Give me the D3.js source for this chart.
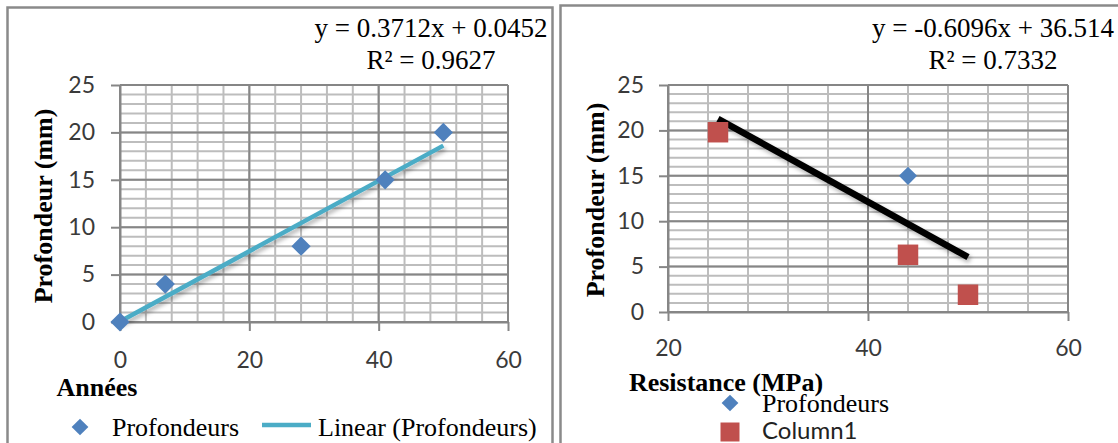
<!DOCTYPE html>
<html>
<head>
<meta charset="utf-8">
<script src="https://cdn.jsdelivr.net/npm/d3@7"></script>
<style>
  html, body { margin: 0; padding: 0; background: #fff; }
  svg { display: block; }
</style>
</head>
<body>
<svg id="chart" width="1118" height="443"></svg>
<script>
// ---------- Data ----------
// Left chart: Profondeur vs Années
const leftYears = [0, 7, 28, 41, 50];
const leftDepth = [0, 4, 8, 15, 20];
const leftTrend = [0.3712, 0.0452];            // slope, intercept
const leftEquation = ["y = 0.3712x + 0.0452", "R² = 0.9627"];
const leftXTicks = [0, 20, 40, 60];
const leftYTicks = [0, 5, 10, 15, 20, 25];

// Right chart: Profondeur vs Resistance
const rightProfX = [44];
const rightProfY = [15];
const rightColX = [25, 44, 50];
const rightColY = [19.8, 6.3, 1.9];
const rightTrend = [-0.6096, 36.514];
const rightEquation = ["y = -0.6096x + 36.514", "R² = 0.7332"];
const rightXTicks = [20, 40, 60];
const rightYTicks = [0, 5, 10, 15, 20, 25];

// ---------- Styles ----------
const SERIF = "'Liberation Serif', 'Times New Roman', serif";
const SANS = "Lato, 'Liberation Sans', sans-serif";
const BLUE = "#4f81bd", RED = "#c0504d", TEAL = "#4bacc6";
const MAJOR = "#868686", MINOR = "#bdbdbd";

const svg = d3.select("#chart");
const defs = svg.append("defs");
const f = defs.append("filter").attr("id", "shadow")
  .attr("x", "-20%").attr("y", "-20%").attr("width", "140%").attr("height", "160%");
f.append("feDropShadow").attr("dx", 2).attr("dy", 3).attr("stdDeviation", 2)
  .attr("flood-color", "#000").attr("flood-opacity", 0.3);

// Frames
svg.append("rect").attr("x", 7.5).attr("y", 7.5).attr("width", 545).attr("height", 450)
  .attr("fill", "#fff").attr("stroke", "#8a8a8a").attr("stroke-width", 2.5);
svg.append("rect").attr("x", 560.5).attr("y", 5.5).attr("width", 570).attr("height", 450)
  .attr("fill", "#fff").attr("stroke", "#8a8a8a").attr("stroke-width", 2.5);

function drawPanel(cfg) {
  const g = svg.append("g");
  const x = d3.scaleLinear().domain(cfg.xDomain).range(cfg.xRange);
  const y = d3.scaleLinear().domain([0, 25]).range(cfg.yRange);

  // minor grid
  const minorX = d3.range(cfg.xDomain[0], cfg.xDomain[1] + 0.001, 4);
  const minorY = d3.range(0, 25.001, 1);
  g.selectAll(".mx").data(minorX).join("line")
    .attr("x1", d => x(d)).attr("x2", d => x(d))
    .attr("y1", y(0)).attr("y2", y(25))
    .attr("stroke", MINOR).attr("stroke-width", 2);
  g.selectAll(".my").data(minorY).join("line")
    .attr("x1", x(cfg.xDomain[0])).attr("x2", x(cfg.xDomain[1]))
    .attr("y1", d => y(d)).attr("y2", d => y(d))
    .attr("stroke", MINOR).attr("stroke-width", 2);
  // major grid
  g.selectAll(".Mx").data(cfg.xTicks).join("line")
    .attr("x1", d => x(d)).attr("x2", d => x(d))
    .attr("y1", y(0)).attr("y2", y(25))
    .attr("stroke", MAJOR).attr("stroke-width", 2);
  g.selectAll(".My").data(cfg.yTicks).join("line")
    .attr("x1", x(cfg.xDomain[0])).attr("x2", x(cfg.xDomain[1]))
    .attr("y1", d => y(d)).attr("y2", d => y(d))
    .attr("stroke", MAJOR).attr("stroke-width", 2);

  // axes
  const ax = g.append("g").attr("transform", `translate(0,${y(0)})`)
    .call(d3.axisBottom(x).tickValues(cfg.xTicks).tickSize(9).tickSizeOuter(0).tickFormat(d3.format("d")));
  ax.select(".domain").attr("stroke", MAJOR).attr("stroke-width", 2);
  ax.selectAll(".tick line").attr("stroke", MAJOR).attr("stroke-width", 2);
  ax.selectAll("text").attr("y", cfg.xLabelOffset).attr("dy", "0.35em")
    .attr("font-family", SANS).attr("font-size", 23).attr("fill", "#3a3a3a");

  const ay = g.append("g").attr("transform", `translate(${x(cfg.xDomain[0])},0)`)
    .call(d3.axisLeft(y).tickValues(cfg.yTicks).tickSize(9).tickSizeOuter(0).tickPadding(cfg.yPad));
  ay.select(".domain").attr("stroke", MAJOR).attr("stroke-width", 2);
  ay.selectAll(".tick line").attr("stroke", MAJOR).attr("stroke-width", 2);
  ay.selectAll("text").attr("font-family", SANS).attr("font-size", 23).attr("fill", "#3a3a3a");
  ax.attr("font-family", null); ay.attr("font-family", null);

  return { g, x, y };
}

// ---------- Left panel ----------
const L = drawPanel({
  xDomain: [0, 60], xRange: [120, 508], yRange: [322, 85],
  xTicks: leftXTicks, yTicks: leftYTicks, xLabelOffset: 38, yPad: 16
});
const lx0 = d3.min(leftYears), lx1 = d3.max(leftYears);
L.g.append("line")
  .attr("x1", L.x(lx0)).attr("y1", L.y(leftTrend[0] * lx0 + leftTrend[1]))
  .attr("x2", L.x(lx1)).attr("y2", L.y(leftTrend[0] * lx1 + leftTrend[1]))
  .attr("stroke", TEAL).attr("stroke-width", 4.5).attr("filter", "url(#shadow)");
L.g.selectAll(".ld").data(leftYears).join("path")
  .attr("d", d3.symbol(d3.symbolSquare, 185))
  .attr("transform", (d, i) => `translate(${L.x(d)},${L.y(leftDepth[i])}) rotate(45)`)
  .attr("fill", BLUE);

// ---------- Right panel ----------
const R = drawPanel({
  xDomain: [20, 60], xRange: [668, 1068], yRange: [312, 85],
  xTicks: rightXTicks, yTicks: rightYTicks, xLabelOffset: 36, yPad: 15
});
const rx0 = d3.min(rightColX), rx1 = d3.max(rightColX);
R.g.append("line")
  .attr("x1", R.x(rx0)).attr("y1", R.y(rightTrend[0] * rx0 + rightTrend[1]))
  .attr("x2", R.x(rx1)).attr("y2", R.y(rightTrend[0] * rx1 + rightTrend[1]))
  .attr("stroke", "#000").attr("stroke-width", 6.5).attr("filter", "url(#shadow)");
R.g.selectAll(".rp").data(rightProfX).join("path")
  .attr("d", d3.symbol(d3.symbolSquare, 165))
  .attr("transform", (d, i) => `translate(${R.x(d)},${R.y(rightProfY[i])}) rotate(45)`)
  .attr("fill", BLUE);
R.g.selectAll(".rc").data(rightColX).join("path")
  .attr("d", d3.symbol(d3.symbolSquare, 420))
  .attr("transform", (d, i) => `translate(${R.x(d)},${R.y(rightColY[i])})`)
  .attr("fill", RED);

// ---------- Texts ----------
function eq(lines, cx) {
  svg.append("text").attr("x", cx).attr("y", 37).attr("text-anchor", "middle")
    .attr("font-family", SERIF).attr("font-size", 27).attr("fill", "#000").text(lines[0]);
  svg.append("text").attr("x", cx).attr("y", 69).attr("text-anchor", "middle")
    .attr("font-family", SERIF).attr("font-size", 27).attr("fill", "#000").text(lines[1]);
}
eq(leftEquation, 431);
eq(rightEquation, 993);

function yTitle(cx, cy) {
  svg.append("text").attr("transform", `translate(${cx},${cy}) rotate(-90)`)
    .attr("text-anchor", "middle").attr("dy", "0.35em")
    .attr("font-family", SERIF).attr("font-weight", "bold").attr("font-size", 26)
    .text("Profondeur (mm)");
}
yTitle(43, 206);
yTitle(595, 200);

svg.append("text").attr("x", 97).attr("y", 387).attr("dy", "0.35em").attr("text-anchor", "middle")
  .attr("font-family", SERIF).attr("font-weight", "bold").attr("font-size", 26).text("Années");
svg.append("text").attr("x", 726).attr("y", 382).attr("dy", "0.35em").attr("text-anchor", "middle")
  .attr("font-family", SERIF).attr("font-weight", "bold").attr("font-size", 26).text("Resistance (MPa)");

// Left legend
svg.append("path").attr("d", d3.symbol(d3.symbolSquare, 140)())
  .attr("transform", "translate(80,427) rotate(45)").attr("fill", BLUE);
svg.append("text").attr("x", 112).attr("y", 427).attr("dy", "0.33em")
  .attr("font-family", SERIF).attr("font-size", 26).text("Profondeurs");
svg.append("line").attr("x1", 262).attr("x2", 311).attr("y1", 425).attr("y2", 425)
  .attr("stroke", TEAL).attr("stroke-width", 4.5);
svg.append("text").attr("x", 318).attr("y", 427).attr("dy", "0.33em")
  .attr("font-family", SERIF).attr("font-size", 26).text("Linear (Profondeurs)");

// Right legend
svg.append("path").attr("d", d3.symbol(d3.symbolSquare, 140)())
  .attr("transform", "translate(730,403) rotate(45)").attr("fill", BLUE);
svg.append("text").attr("x", 762).attr("y", 403).attr("dy", "0.33em")
  .attr("font-family", SERIF).attr("font-size", 26).text("Profondeurs");
svg.append("path").attr("d", d3.symbol(d3.symbolSquare, 361)())
  .attr("transform", "translate(730,432)").attr("fill", RED);
svg.append("text").attr("x", 762).attr("y", 431).attr("dy", "0.35em")
  .attr("font-family", SANS).attr("font-size", 24).attr("fill", "#222").text("Column1");
</script>
</body>
</html>
